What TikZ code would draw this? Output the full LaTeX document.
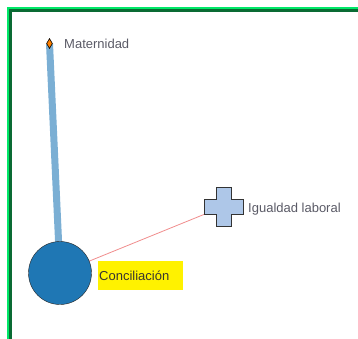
\documentclass[tikz,border=0pt]{standalone}
\usepackage{xcolor}
\usepackage{fontspec}
\setmainfont{Liberation Sans}
\usetikzlibrary{shapes.geometric, backgrounds, calc}
\definecolor{frameLight}{HTML}{00E868}
\definecolor{frameDark}{HTML}{0A6B34}
\definecolor{nodeBlue}{HTML}{1F77B4}
\definecolor{linkBlue}{HTML}{7BAFD4}
\definecolor{crossBlue}{HTML}{AEC7E8}
\definecolor{linkRed}{HTML}{F08C8C}
\definecolor{labelGray}{HTML}{5A5A66}
\tikzset{every node/.append style={font=\fontsize{13}{15}\selectfont}}
\tikzset{
    lbl/.style={anchor=west, text=labelGray, inner sep=0pt},
    hilite/.style={anchor=west, fill=yellow, text=black!75!yellow!40!black, inner xsep=1pt, text width=83pt, minimum height=29pt}
}

\begin{document}
\begin{tikzpicture}[x=1pt, y=-1pt]
    \useasboundingbox (0,0) rectangle (358,339);
    % frame
    \draw[frameLight, line width=2pt] (8,339) -- (8,8) -- (358,8);
    \draw[frameDark, line width=3.5pt] (10.7,339) -- (10.7,10.7) -- (358,10.7);
    % nodes
    \node[circle, draw=black!85, fill=nodeBlue, minimum size=63pt, inner sep=0pt] (conc) at (60,273) {};
    \node[diamond, draw=black, fill=orange, minimum width=6pt, minimum height=10pt, inner sep=0pt, line width=0.6pt] (mat) at (49.5,43.5) {};
    \node[minimum size=40pt, inner sep=0pt] (ig) at (223.5,206.5) {};
    \draw[fill=crossBlue, draw=black!80, line width=0.8pt]
        ($(ig.center)+(-7.5,-19.5)$) -- ++(15,0) -- ++(0,12) -- ++(12,0) -- ++(0,15)
        -- ++(-12,0) -- ++(0,12) -- ++(-15,0) -- ++(0,-12) -- ++(-12,0) -- ++(0,-15)
        -- ++(12,0) -- cycle;
    % links
    \begin{pgfonlayer}{background}
        \draw[linkBlue, line width=7pt] (mat.center) -- (conc.center);
        \draw[linkRed, line width=0.8pt] (conc.center) -- (ig.center);
    \end{pgfonlayer}
    % labels
    \node[lbl] (mat-lbl) at (64,44) {Maternidad};
    \node[lbl] (ig-lbl) at (248,209) {Igualdad laboral};
    \node[hilite] (conc-lbl) at (98,275.5) {Conciliación};
\end{tikzpicture}
\end{document}
